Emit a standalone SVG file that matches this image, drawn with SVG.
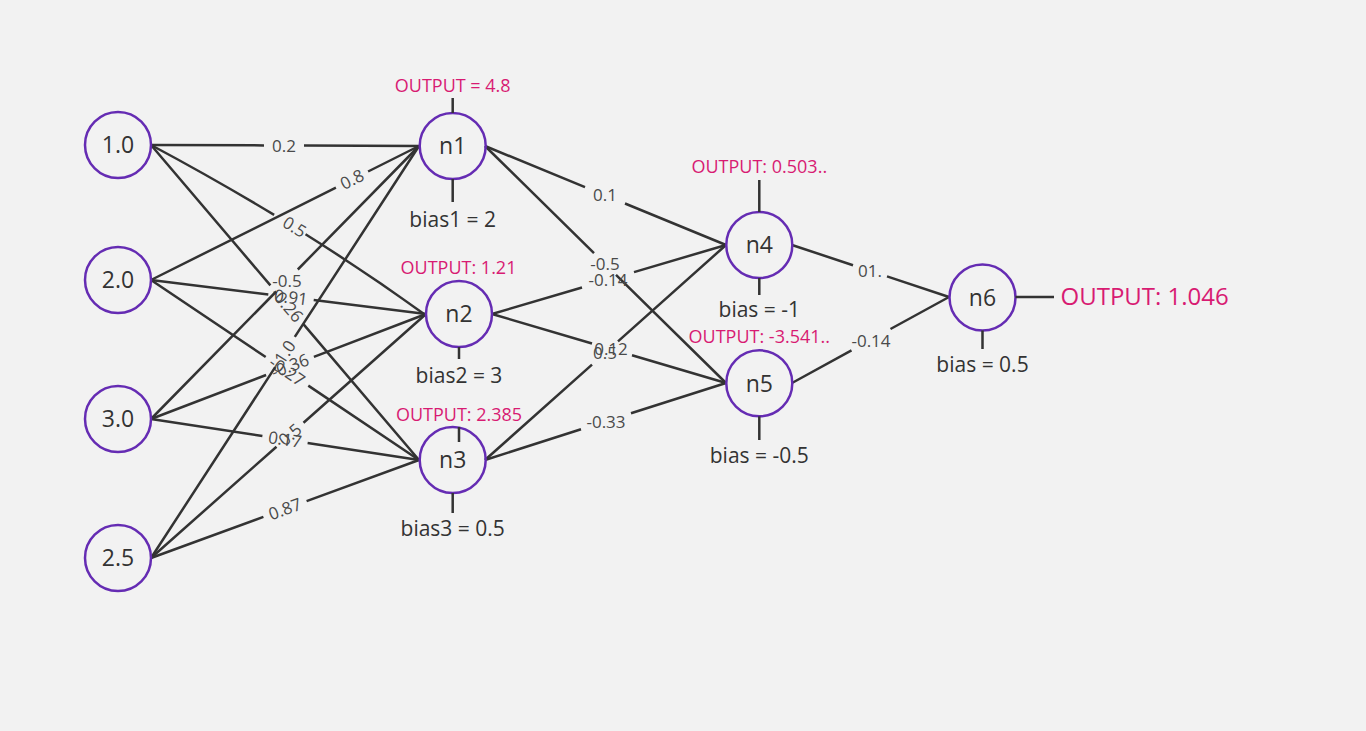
<svg xmlns="http://www.w3.org/2000/svg" width="1366" height="731" viewBox="0 0 1366 731">
<style>
.bg{fill:#f2f2f2}
.edge{stroke:#333;stroke-width:2.5;fill:none;stroke-linecap:butt}
.stem{stroke:#333;stroke-width:2.5;fill:none}
.node circle{fill:none;stroke:#652cb3;stroke-width:2.5}
text{font-family:"Open Sans","Noto Sans","Liberation Sans",sans-serif}
.nl{font-size:23px;fill:#333;text-anchor:middle}
.el{font-size:17px;fill:#4a4a4a;text-anchor:middle}
.out{font-size:18px;fill:#d81b72;text-anchor:middle}
.bias{font-size:21px;fill:#333;text-anchor:middle}
</style>
<rect class="bg" x="0" y="0" width="1366" height="731"/>
<g id="connectors">
  <g id="e-i1-n1"><path class="edge" d="M151 145 L264 145.4 M304 145.6 L419 146"/><text class="el" x="284" y="151.5">0.2</text></g>
  <g id="e-i1-n2"><path class="edge" d="M151 145 Q301 225 424 314" pathLength="100" stroke-dasharray="44 11.5 100"/><text class="el" transform="translate(294.5 227) rotate(31.8)" y="6">0.5</text></g>
  <g id="e-i1-n3"><path class="edge" d="M151 145 L270.4 285.4 M303.6 324.4 L419 460"/><text class="el" transform="translate(287 304.9) rotate(49.6)" y="6">-0.26</text></g>
  <g id="e-i2-n1"><path class="edge" d="M151 280 L335.9 187.6 M368.1 171.5 L419 146"/><text class="el" transform="translate(352 179.5) rotate(-26.57)" y="6">0.8</text></g>
  <g id="e-i2-n2"><path class="edge" d="M151 280 L268.3 294.5 M313.7 300.1 L426 314"/><text class="el" transform="translate(291 297.3) rotate(7.05)" y="6">0.91</text></g>
  <g id="e-i2-n3"><path class="edge" d="M151 280 L265.7 357 M308.3 385.6 L419 460"/><text class="el" transform="translate(287 371.3) rotate(33.9)" y="6">-0.27</text></g>
  <g id="e-i3-n1"><path class="edge" d="M151 419 L276.2 291.5 M297.8 269.5 L419 146"/><text class="el" x="287" y="286.5">-0.5</text></g>
  <g id="e-i3-n2"><path class="edge" d="M151 419 L266.1 375 M313.9 356.8 L426 314"/><text class="el" transform="translate(290 365.9) rotate(-20.9)" y="6">-0.36</text></g>
  <g id="e-i3-n3"><path class="edge" d="M151 419 L262.4 436 M307.6 443 L419 460"/><text class="el" transform="translate(285 439.5) rotate(8.7)" y="6">0.17</text></g>
  <g id="e-i4-n1"><path class="edge" d="M151 558 L275.2 367.1 M294.8 336.9 L419 146"/><text class="el" transform="translate(285 352) rotate(-56.95)" y="6">1.0</text></g>
  <g id="e-i4-n2"><path class="edge" d="M151 558 L276.5 446.7 M303.5 422.7 L426 314"/><text class="el" transform="translate(290 434.7) rotate(-41.6)" y="6">0.5</text></g>
  <g id="e-i4-n3"><path class="edge" d="M151 558 L263.4 516.9 M306.6 501.1 L419 460"/><text class="el" transform="translate(285 509) rotate(-20.08)" y="6">0.87</text></g>

  <g id="e-n1-n4"><path class="edge" d="M485 146 L585 187.1 M625 203.5 L726 245"/><text class="el" x="605" y="201">0.1</text></g>
  <g id="e-n1-n5"><path class="edge" d="M485 146 L594 253.2 M616 274.8 L726 383"/><text class="el" x="605" y="270">-0.5</text></g>
  <g id="e-n2-n4"><path class="edge" d="M492 314 L582 287.5 M634 272.1 L726 245"/><text class="el" x="608" y="286">-0.14</text></g>
  <g id="e-n2-n5"><path class="edge" d="M492 314 L592 343.5 M632 355.3 L726 383"/><text class="el" x="611" y="355">0.12</text></g>
  <g id="e-n3-n4"><path class="edge" d="M485 460 L592 364.6 M618 341.4 L726 245"/><text class="el" x="605" y="359">0.5</text></g>
  <g id="e-n3-n5"><path class="edge" d="M485 460 L581 429.3 M631 413.3 L726 383"/><text class="el" x="606" y="428">-0.33</text></g>
  <g id="e-n4-n6"><path class="edge" d="M792 245 L853 265.2 M887 276.4 L949 297"/><text class="el" x="870" y="277">01.</text></g>
  <g id="e-n5-n6"><path class="edge" d="M792 383 L851.5 350.4 M890.5 329 L949 297"/><text class="el" x="871" y="346.5">-0.14</text></g>
</g>

<g id="in1" class="node"><circle cx="118" cy="145" r="33"/><text class="nl" x="118" y="153.2">1.0</text></g>
<g id="in2" class="node"><circle cx="118" cy="280" r="33"/><text class="nl" x="118" y="288.2">2.0</text></g>
<g id="in3" class="node"><circle cx="118" cy="419" r="33"/><text class="nl" x="118" y="427.2">3.0</text></g>
<g id="in4" class="node"><circle cx="118" cy="558" r="33"/><text class="nl" x="118" y="566.2">2.5</text></g>

<g id="n1" class="node">
  <circle cx="452.7" cy="146" r="33"/><text class="nl" x="452.7" y="154.2">n1</text>
  <path class="stem" d="M452.7 98 V113 M452.7 179 V202"/>
  <text class="out" x="452.7" y="91.7">OUTPUT = 4.8</text>
  <text class="bias" x="452.7" y="226.5">bias1 = 2</text>
</g>
<g id="n2" class="node">
  <circle cx="459" cy="314" r="33"/><text class="nl" x="459" y="322.2">n2</text>
  <path class="stem" d="M459 347 V359"/>
  <text class="out" x="458.5" y="274">OUTPUT: 1.21</text>
  <text class="bias" x="459" y="383.3">bias2 = 3</text>
</g>
<g id="n3" class="node">
  <circle cx="452.7" cy="460" r="33"/><text class="nl" x="452.7" y="468.2">n3</text>
  <path class="stem" d="M459 427 V442 M452.7 493 V513"/>
  <text class="out" x="459" y="421">OUTPUT: 2.385</text>
  <text class="bias" x="452.7" y="535.7">bias3 = 0.5</text>
</g>
<g id="n4" class="node">
  <circle cx="759.3" cy="245" r="33"/><text class="nl" x="759.3" y="253.2">n4</text>
  <path class="stem" d="M759.3 180 V212 M759.3 278 V295"/>
  <text class="out" x="759.3" y="173.3">OUTPUT: 0.503..</text>
  <text class="bias" x="759.3" y="317.3">bias = -1</text>
</g>
<g id="n5" class="node">
  <circle cx="759.3" cy="383.3" r="33"/><text class="nl" x="759.3" y="391.5">n5</text>
  <path class="stem" d="M759.3 416.3 V440"/>
  <text class="out" x="759.3" y="343.3">OUTPUT: -3.541..</text>
  <text class="bias" x="759.3" y="463.3">bias = -0.5</text>
</g>
<g id="n6" class="node">
  <circle cx="982.5" cy="297.5" r="33"/><text class="nl" x="982.5" y="305.7">n6</text>
  <path class="stem" d="M1015.5 297 H1054 M982.5 330.5 V349"/>
  <text x="1060.5" y="305" style="font-size:24px;fill:#d81b72">OUTPUT: 1.046</text>
  <text class="bias" x="982.5" y="371.7">bias = 0.5</text>
</g>
</svg>
